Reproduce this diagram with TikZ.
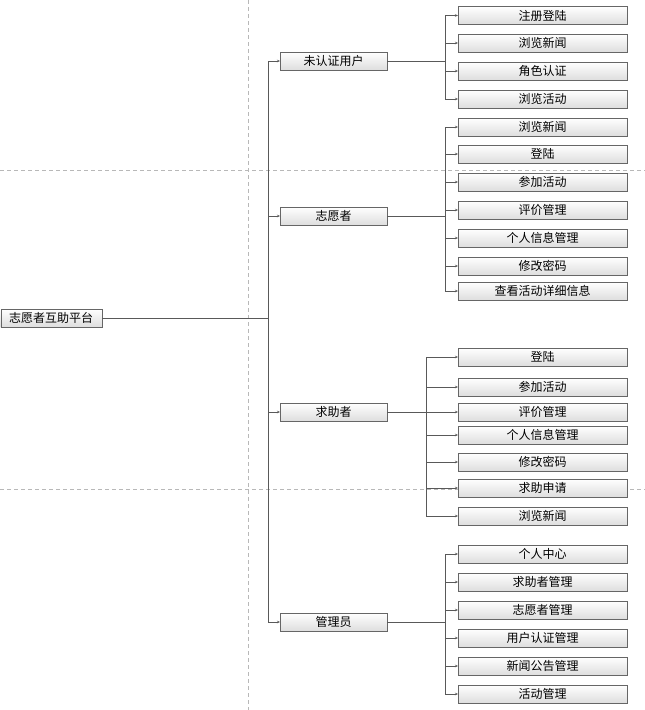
\documentclass[tikz,border=0pt]{standalone}
\usepackage{fontspec}
\newfontfamily\cjk{Noto Sans CJK SC}
\usetikzlibrary{arrows.meta}

\tikzset{
  box/.style={draw=black!60, top color=white, bottom color=black!13, minimum height=18pt,
    inner sep=0pt, font=\cjk\fontsize{12}{12}\selectfont},
  rootbox/.style={box, minimum width=101pt},
  rolebox/.style={box, minimum width=107pt},
  leafbox/.style={box, minimum width=169pt},
  conn/.style={draw=black!65, line width=0.8pt},
  tip/.style={conn, -{Stealth[length=3pt,width=2.5pt]}},
  guide/.style={draw=black!28, line width=0.6pt, dash pattern=on 4pt off 3pt},
}

\begin{document}
\begin{tikzpicture}[x=1pt,y=-1pt]
\useasboundingbox (0,0) rectangle (645,710);

% guide lines
\draw[guide] (248,0) -- (248,710);
\draw[guide] (0,170) -- (645,170);
\draw[guide] (0,489) -- (645,489);

% root and roles
\node[rootbox, anchor=west] (root) at (0.5,318) {志愿者互助平台};
\coordinate (trunk) at (268,318);
\draw[conn] (root.east) -- (trunk);

\node[rolebox, anchor=west] (guest) at (280,61) {未认证用户};
\node[rolebox, anchor=west] (vol) at (280,216) {志愿者};
\node[rolebox, anchor=west] (seek) at (280,412) {求助者};
\node[rolebox, anchor=west] (admin) at (280,622) {管理员};

\foreach \r in {guest,vol,seek,admin}
  \draw[tip] (trunk) |- (\r.west);

% branch points
\coordinate (bguest) at (445,61);
\coordinate (bvol) at (445,216);
\coordinate (bseek) at (426,412);
\coordinate (badmin) at (445,622);
\foreach \r in {guest,vol,seek,admin}
  \draw[conn] (\r.east) -- (b\r);

% leaves
\foreach \y/\txt [count=\i] in {15.5/注册登陆, 43/浏览新闻, 71/角色认证, 99/浏览活动} {
  \node[leafbox, anchor=west] (g\i) at (458,\y) {\txt};
  \draw[tip] (bguest) |- (g\i.west);
}
\foreach \y/\txt [count=\i] in {127/浏览新闻, 154/登陆, 182/参加活动, 210/评价管理,
    238/个人信息管理, 266/修改密码, 291/查看活动详细信息} {
  \node[leafbox, anchor=west] (v\i) at (458,\y) {\txt};
  \draw[tip] (bvol) |- (v\i.west);
}
\foreach \y/\txt [count=\i] in {357/登陆, 387/参加活动, 412/评价管理, 435/个人信息管理,
    462/修改密码, 488/求助申请, 516/浏览新闻} {
  \node[leafbox, anchor=west] (s\i) at (458,\y) {\txt};
  \draw[tip] (bseek) |- (s\i.west);
}
\foreach \y/\txt [count=\i] in {554/个人中心, 582/求助者管理, 610/志愿者管理, 638/用户认证管理,
    666/新闻公告管理, 694/活动管理} {
  \node[leafbox, anchor=west] (a\i) at (458,\y) {\txt};
  \draw[tip] (badmin) |- (a\i.west);
}
\end{tikzpicture}
\end{document}
